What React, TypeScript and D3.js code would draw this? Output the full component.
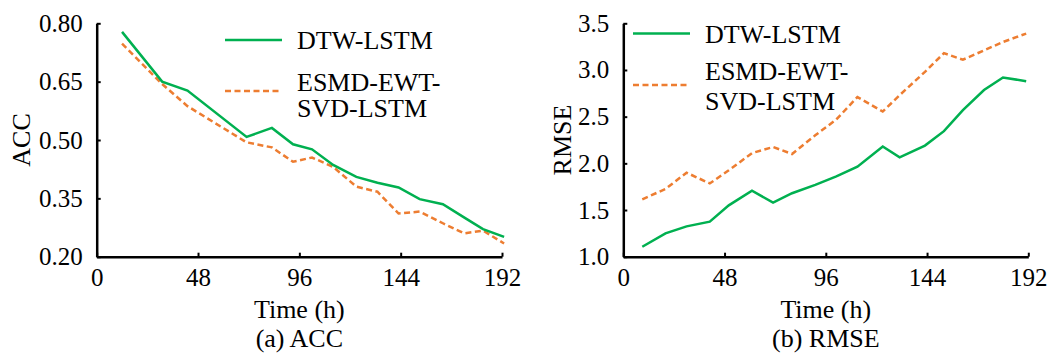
import React, {useEffect, useRef} from 'react';
import * as d3 from 'd3';

// hours of each sample
const accHours = [12, 31, 43, 71, 83, 93, 102, 112, 123, 133, 143, 153, 164, 174, 183, 193];
const accDtw = [0.778, 0.65, 0.627, 0.508, 0.531, 0.489, 0.476, 0.436, 0.405, 0.39, 0.378, 0.348, 0.335, 0.301, 0.271, 0.251];
const accEsmd = [0.748, 0.644, 0.587, 0.494, 0.481, 0.444, 0.455, 0.431, 0.38, 0.367, 0.311, 0.316, 0.286, 0.26, 0.267, 0.234];

const rmseHours = [9, 20, 30, 41, 50, 61, 71, 80, 91, 101, 111, 123, 131, 143, 152, 161, 171, 180, 191];
const rmseDtw = [1.107, 1.25, 1.325, 1.375, 1.55, 1.707, 1.58, 1.68, 1.77, 1.86, 1.965, 2.18, 2.065, 2.19, 2.345, 2.57, 2.785, 2.92, 2.88];
const rmseEsmd = [1.615, 1.725, 1.9, 1.785, 1.925, 2.11, 2.175, 2.1, 2.3, 2.47, 2.71, 2.555, 2.73, 2.98, 3.18, 3.11, 3.21, 3.3, 3.39];

const xTicks = [0, 48, 96, 144, 192];
const accTicks = [0.2, 0.35, 0.5, 0.65, 0.8];
const rmseTicks = [1.0, 1.5, 2.0, 2.5, 3.0, 3.5];

const seriesNames = ['DTW-LSTM', 'ESMD-EWT-', 'SVD-LSTM'];

const GREEN = '#00b050';
const ORANGE = '#ed7d31';
const FONT = '"Liberation Serif", "Times New Roman", serif';

interface Panel {
  x0: number;
  x1: number;
  yDomain: [number, number];
  yTicks: number[];
  fmt: string;
  hours: number[];
  dtw: number[];
  esmd: number[];
  yTitle: string;
  caption: string;
  yTitleX: number;
  legend: {lx0: number; lx1: number; tx: number; gy: number; dy: number; b1: number; b2: number; b3: number};
}

const panels: Panel[] = [
  {
    x0: 96.7, x1: 502, yDomain: [0.2, 0.8], yTicks: accTicks, fmt: '.2f',
    hours: accHours, dtw: accDtw, esmd: accEsmd, yTitle: 'ACC', caption: '(a) ACC', yTitleX: 30,
    legend: {lx0: 225, lx1: 282, tx: 297, gy: 40, dy: 91, b1: 49, b2: 90.5, b3: 117},
  },
  {
    x0: 623.3, x1: 1028.3, yDomain: [1.0, 3.5], yTicks: rmseTicks, fmt: '.1f',
    hours: rmseHours, dtw: rmseDtw, esmd: rmseEsmd, yTitle: 'RMSE', caption: '(b) RMSE', yTitleX: 571,
    legend: {lx0: 633, lx1: 690, tx: 705, gy: 33.5, dy: 85, b1: 42.7, b2: 80, b3: 110},
  },
];

const TOP = 23.3;
const BOTTOM = 256.7;

export default function App() {
  const el = useRef<SVGSVGElement>(null);

  useEffect(() => {
    const svg = d3.select(el.current);
    svg.selectAll('*').remove();

    panels.forEach(p => {
      const x = d3.scaleLinear().domain([0, 192]).range([p.x0, p.x1]);
      const y = d3.scaleLinear().domain(p.yDomain).range([BOTTOM, TOP]);
      const g = svg.append('g');

      const yAxis = d3.axisLeft(y).tickValues(p.yTicks).tickFormat(d3.format(p.fmt) as any)
        .tickSizeInner(-4).tickSizeOuter(0).tickPadding(14);
      const xAxis = d3.axisBottom(x).tickValues(xTicks).tickFormat(d3.format('d') as any)
        .tickSizeInner(-4).tickSizeOuter(0).tickPadding(11.5);

      const ya = g.append('g').attr('transform', `translate(${p.x0},0)`).call(yAxis);
      const xa = g.append('g').attr('transform', `translate(0,${BOTTOM})`).call(xAxis);
      [ya, xa].forEach(a => {
        a.select('.domain').attr('stroke', '#000').attr('stroke-width', 2.5);
        a.selectAll('.tick line').attr('stroke', '#000').attr('stroke-width', 2);
        a.selectAll('.tick text').attr('fill', '#000').style('font-family', FONT).style('font-size', '25px');
      });

      const line = d3.line<number>().x((_, i) => x(p.hours[i])).y(d => y(d));
      g.append('path').datum(p.esmd).attr('fill', 'none').attr('stroke', ORANGE)
        .attr('stroke-width', 2.5).attr('stroke-dasharray', '6,3.5').attr('d', line);
      g.append('path').datum(p.dtw).attr('fill', 'none').attr('stroke', GREEN)
        .attr('stroke-width', 2.5).attr('d', line);

      const cx = (p.x0 + p.x1) / 2;
      const txt = (sel: d3.Selection<SVGTextElement, unknown, null, undefined>) =>
        sel.attr('fill', '#000').style('font-family', FONT).style('font-size', '26px');

      g.append('text').attr('x', cx).attr('y', 318).attr('text-anchor', 'middle').text('Time (h)').call(txt);
      g.append('text').attr('x', cx).attr('y', 346.5).attr('text-anchor', 'middle').text(p.caption).call(txt);
      g.append('text').attr('transform', `translate(${p.yTitleX},${(TOP + BOTTOM) / 2}) rotate(-90)`)
        .attr('text-anchor', 'middle').text(p.yTitle).call(txt);

      const L = p.legend;
      g.append('line').attr('x1', L.lx0).attr('x2', L.lx1).attr('y1', L.gy).attr('y2', L.gy)
        .attr('stroke', GREEN).attr('stroke-width', 2.5);
      g.append('line').attr('x1', L.lx0).attr('x2', L.lx1).attr('y1', L.dy).attr('y2', L.dy)
        .attr('stroke', ORANGE).attr('stroke-width', 2.5).attr('stroke-dasharray', '6,3.5');
      [L.b1, L.b2, L.b3].forEach((b, i) => {
        g.append('text').attr('x', L.tx).attr('y', b).text(seriesNames[i]).call(txt);
      });
    });
  }, []);

  return (
    <div style={{position: 'absolute', left: 0, top: 0}}>
      <svg ref={el} width={1051} height={354} style={{display: 'block', background: '#fff'}} />
    </div>
  );
}
